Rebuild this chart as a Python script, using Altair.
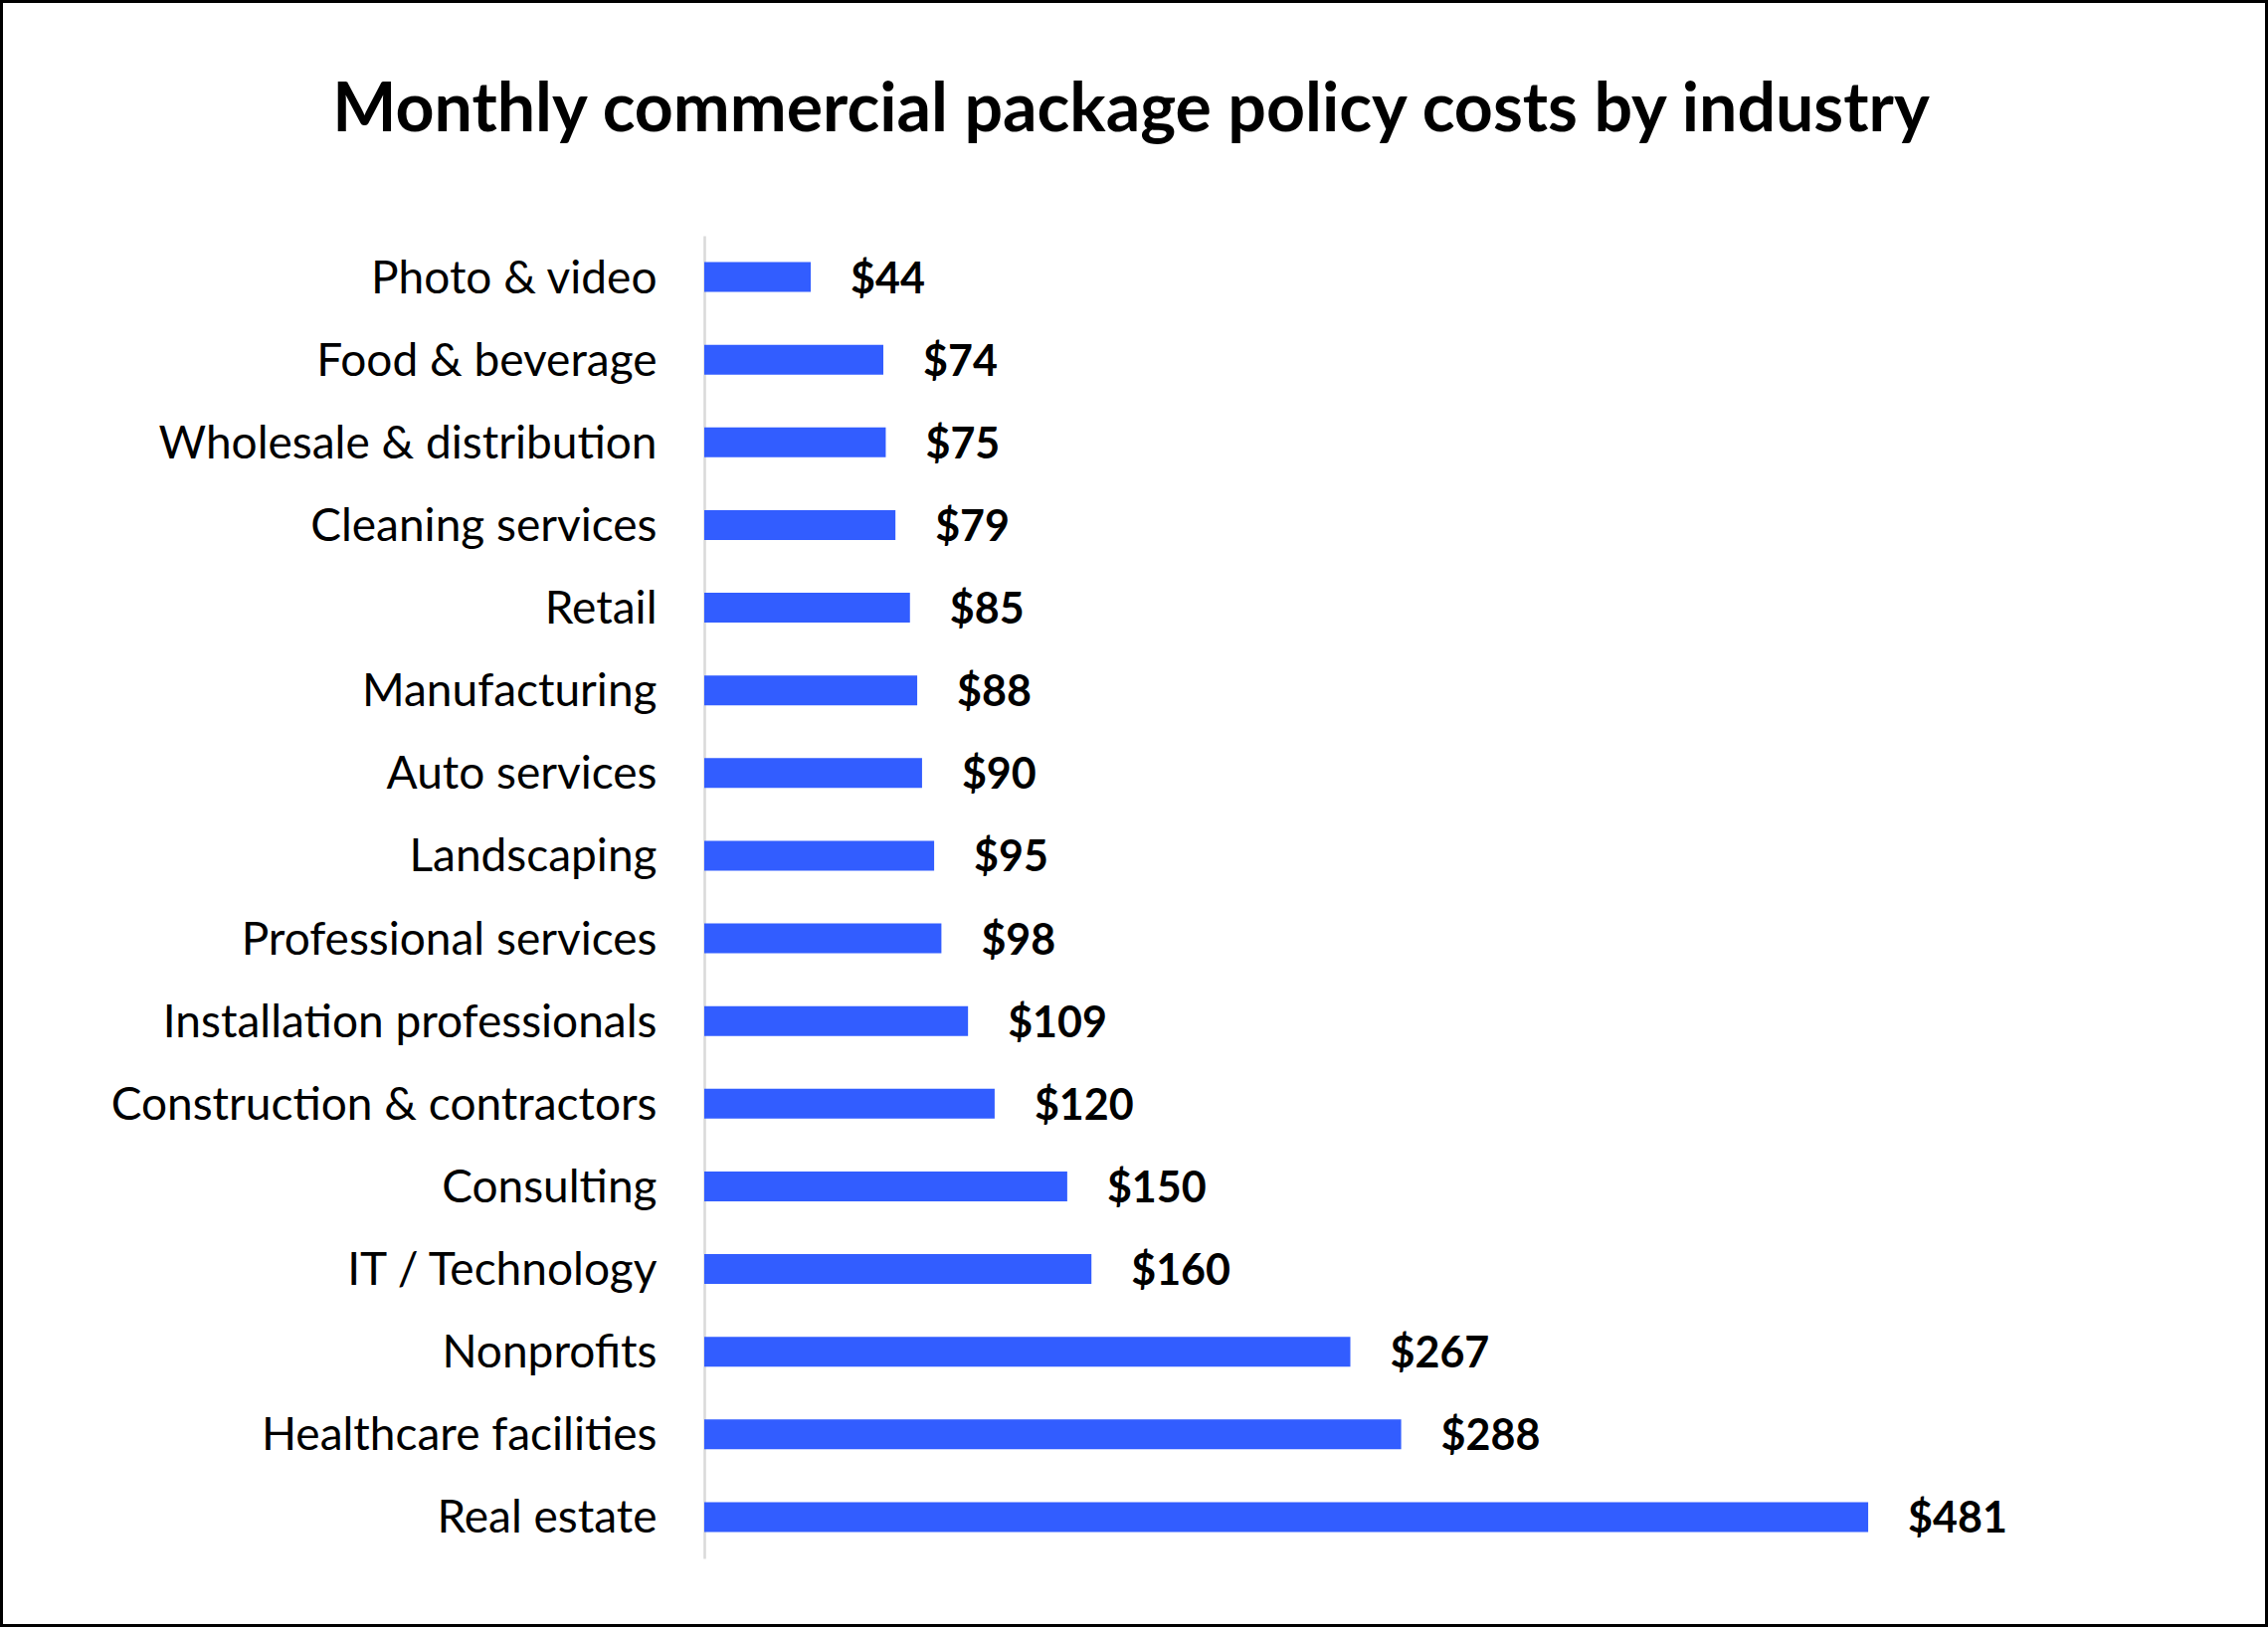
import altair as alt
import pandas as pd

# ---- data ----
industries = [
    "Photo & video",
    "Food & beverage",
    "Wholesale & distribution",
    "Cleaning services",
    "Retail",
    "Manufacturing",
    "Auto services",
    "Landscaping",
    "Professional services",
    "Installation professionals",
    "Construction & contractors",
    "Consulting",
    "IT / Technology",
    "Nonprofits",
    "Healthcare facilities",
    "Real estate",
]
costs = [44, 74, 75, 79, 85, 88, 90, 95, 98, 109, 120, 150, 160, 267, 288, 481]
value_labels = ["$" + str(c) for c in costs]
title_text = "Monthly commercial package policy costs by industry"

df = pd.DataFrame({"industry": industries, "cost": costs, "label": value_labels})

# ---- layout ----
W = 1299
H = 1330
PAD_L, PAD_T = 708, 237
PAD_R = 2280 - PAD_L - W
PAD_B = 1636 - PAD_T - H

FONT = "Lato"
BLUE = "#325DFF"

x_scale = alt.Scale(domain=[0, 534], nice=False, zero=True)
y_scale = alt.Scale(paddingInner=0.64, paddingOuter=0.32)

y_enc = alt.Y(
    "industry:N",
    sort=industries,
    scale=y_scale,
    axis=alt.Axis(
        title=None,
        ticks=False,
        grid=False,
        labelFont=FONT,
        labelFontSize=46,
        labelColor="black",
        labelPadding=48,
        labelLimit=900,
        labelOffset=2,
        domainColor="#d9d9d9",
        domainWidth=2.5,
    ),
)

base = alt.Chart(df)

bars = base.mark_bar(color=BLUE).encode(
    y=y_enc,
    x=alt.X("cost:Q", scale=x_scale, axis=None),
)

text = base.mark_text(
    align="left",
    baseline="middle",
    dx=40,
    dy=3,
    font=FONT,
    fontWeight="bold",
    fontSize=43,
    color="black",
).encode(
    y=alt.Y("industry:N", sort=industries),
    x=alt.X("cost:Q"),
    text="label:N",
)

title = alt.Chart(pd.DataFrame({"t": [title_text]})).mark_text(
    align="center",
    baseline="alphabetic",
    font=FONT,
    fontWeight="bold",
    fontSize=68,
    color="black",
).encode(
    x=alt.value(1137 - PAD_L),
    y=alt.value(132 - PAD_T),
    text="t:N",
)

border = alt.Chart(pd.DataFrame({"b": [0]})).mark_rect(
    filled=False, stroke="black", strokeWidth=3
).encode(
    x=alt.value(1.5 - PAD_L),
    x2=alt.value(2278.5 - PAD_L),
    y=alt.value(1.5 - PAD_T),
    y2=alt.value(1634.5 - PAD_T),
)

chart = (
    alt.layer(border, bars, text, title)
    .properties(
        width=W,
        height=H,
        padding={"left": PAD_L, "top": PAD_T, "right": PAD_R, "bottom": PAD_B},
        autosize=alt.AutoSizeParams(type="none"),
        background="white",
    )
    .configure_view(strokeWidth=0)
)

chart.save("out.html", embed_options={"renderer": "svg", "actions": False})
